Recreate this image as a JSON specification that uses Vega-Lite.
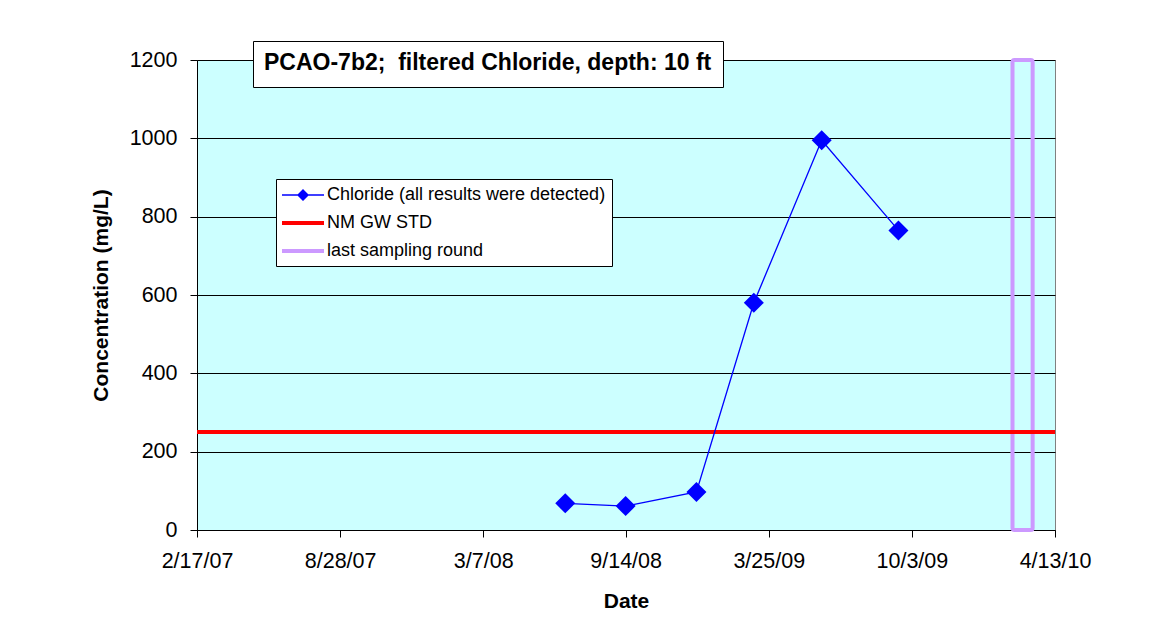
{
  "$schema": "https://vega.github.io/schema/vega-lite/v6.json",
  "width": 858,
  "height": 470,
  "autosize": {"type": "none"},
  "padding": {"left": 197, "top": 60, "right": 96, "bottom": 111},
  "background": "white",
  "view": {"fill": "#CCFFFF", "stroke": "#808080", "strokeWidth": 1},
  "config": {
    "font": "Liberation Sans",
    "view": {"fill": "#CCFFFF", "stroke": "#808080", "strokeWidth": 1},
    "axis": {
      "labelFont": "Liberation Sans",
      "labelFontSize": 21.5,
      "labelColor": "black",
      "titleFont": "Liberation Sans",
      "titleFontSize": 21,
      "titleFontWeight": "bold",
      "titleColor": "black",
      "domainColor": "black",
      "tickColor": "black",
      "tickSize": 7,
      "labelPadding": 13,
      "gridColor": "black",
      "gridOpacity": 1,
      "gridWidth": 1
    }
  },
  "layer": [
    {
      "data": {"values": [{"series": "last sampling round", "start": "2010-02-15T00:00:00", "end": "2010-03-14T00:00:00"}]},
      "mark": {"type": "rect", "filled": false, "strokeWidth": 4, "cornerRadius": 2},
      "encoding": {
        "x": {
          "field": "start", "type": "temporal",
          "scale": {"domain": [{"year": 2007, "month": 2, "date": 17}, {"year": 2010, "month": 4, "date": 13}], "nice": false},
          "axis": {
            "title": "Date",
            "values": [
              {"year": 2007, "month": 2, "date": 17},
              {"year": 2007, "month": 8, "date": 28},
              {"year": 2008, "month": 3, "date": 7},
              {"year": 2008, "month": 9, "date": 14},
              {"year": 2009, "month": 3, "date": 25},
              {"year": 2009, "month": 10, "date": 3},
              {"year": 2010, "month": 4, "date": 13}
            ],
            "format": "%-m/%-d/%y",
            "grid": false,
            "labelOverlap": false,
            "labelFlush": false,
            "labelBound": false,
            "labelAngle": 0,
            "titlePadding": 19
          }
        },
        "x2": {"field": "end"},
        "color": {
          "field": "series", "type": "nominal",
          "scale": {"domain": ["Chloride (all results were detected)", "NM GW STD", "last sampling round"], "range": ["#0000FF", "#FF0000", "#CC99FF"]},
          "legend": {
            "title": null,
            "orient": "none",
            "legendX": 79,
            "legendY": 119,
            "fillColor": "white",
            "strokeColor": "black",
            "padding": 6,
            "labelFont": "Liberation Sans",
            "labelFontSize": 18,
            "labelColor": "black",
            "labelLimit": 400,
            "symbolSize": 400,
            "labelOffset": 25,
            "rowPadding": 9,
            "encode": {
              "symbols": {
                "update": {
                  "shape": {"signal": "datum.value === 'Chloride (all results were detected)' ? 'M-1,-0.065H3.2V0.065H-1Z M1.1,-0.6L1.7,0L1.1,0.6L0.5,0Z' : 'M-1,-0.2H3.2V0.2H-1Z'"},
                  "fill": {"signal": "datum.value === 'Chloride (all results were detected)' ? '#0000FF' : datum.value === 'NM GW STD' ? '#FF0000' : '#CC99FF'"},
                  "stroke": {"value": "transparent"},
                  "strokeWidth": {"value": 0},
                  "opacity": {"value": 1},
                  "fillOpacity": {"value": 1},
                  "size": {"value": 400}
                }
              }
            }
          }
        }
      }
    },
    {
      "data": {"values": [{"series": "NM GW STD", "value": 250}]},
      "mark": {"type": "rule", "strokeWidth": 4},
      "encoding": {
        "y": {"field": "value", "type": "quantitative", "scale": {"domain": [0, 1200], "nice": false}, "axis": {"title": "Concentration (mg/L)"}},
        "color": {"field": "series", "type": "nominal"}
      }
    },
    {
      "data": {"values": [
        {"series": "Chloride (all results were detected)", "date": "2008-06-25T00:00:00", "conc": 68},
        {"series": "Chloride (all results were detected)", "date": "2008-09-14T00:00:00", "conc": 61},
        {"series": "Chloride (all results were detected)", "date": "2008-12-18T00:00:00", "conc": 97},
        {"series": "Chloride (all results were detected)", "date": "2009-03-05T00:00:00", "conc": 580},
        {"series": "Chloride (all results were detected)", "date": "2009-06-04T00:00:00", "conc": 995},
        {"series": "Chloride (all results were detected)", "date": "2009-09-15T00:00:00", "conc": 765}
      ]},
      "encoding": {
        "x": {"field": "date", "type": "temporal", "scale": {"domain": [{"year": 2007, "month": 2, "date": 17}, {"year": 2010, "month": 4, "date": 13}], "nice": false}, "axis": {"title": "Date"}},
        "y": {
          "field": "conc", "type": "quantitative",
          "scale": {"domain": [0, 1200], "nice": false},
          "axis": {"title": "Concentration (mg/L)", "values": [0, 200, 400, 600, 800, 1000, 1200], "format": "d", "grid": true, "titlePadding": 18}
        },
        "color": {"field": "series", "type": "nominal"}
      },
      "layer": [
        {"mark": {"type": "line", "strokeWidth": 1.3}},
        {"mark": {"type": "point", "shape": "diamond", "filled": true, "size": 400, "opacity": 1}}
      ]
    },
    {
      "data": {"values": [{"t": "title"}]},
      "mark": {"type": "point", "opacity": 0},
      "encoding": {
        "shape": {
          "field": "t", "type": "nominal",
          "legend": {
            "title": "PCAO-7b2;\u00a0 filtered Chloride, depth: 10 ft",
            "orient": "none",
            "legendX": 56,
            "legendY": -19,
            "titleFont": "Liberation Sans",
            "titleFontSize": 23,
            "titleFontWeight": "bold",
            "titleColor": "black",
            "titleLimit": 1000,
            "titlePadding": 0,
            "padding": 11,
            "fillColor": "white",
            "strokeColor": "black",
            "symbolSize": 0,
            "symbolOpacity": 0,
            "symbolStrokeWidth": 0,
            "labelExpr": "''",
            "labelFontSize": 1
          }
        }
      }
    }
  ]
}
